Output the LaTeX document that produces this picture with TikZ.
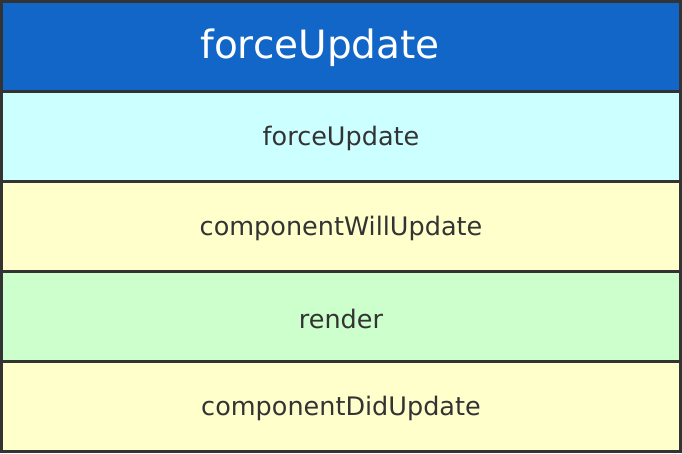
\documentclass[tikz,border=0pt]{standalone}
\usepackage{fontspec}
\setmainfont{DejaVu Sans}
\definecolor{edge}{HTML}{333333}
\definecolor{headblue}{HTML}{1166C8}
\definecolor{cyanrow}{HTML}{CCFFFF}
\definecolor{yellowrow}{HTML}{FFFFCC}
\definecolor{greenrow}{HTML}{CCFFCC}
\definecolor{txt}{HTML}{333333}
\begin{document}
\begin{tikzpicture}[x=1pt,y=1pt,
  row/.style={draw=edge,line width=3pt,minimum width=679pt,minimum height=90pt,
    inner sep=0pt,outer sep=0pt,anchor=north west},
  rowtext/.style={text=txt,font=\fontsize{25.5}{30}\selectfont,yshift=-2pt},
  headtext/.style={text=white,font=\fontsize{39}{46}\selectfont,yshift=-1pt}]
\useasboundingbox (0,0) rectangle (682,-454);
\node[row,fill=headblue]  (head) at (1.5,-1.5) {};
\node[row,fill=cyanrow]   (r1) at (1.5,-91.5) {};
\node[row,fill=yellowrow] (r2) at (1.5,-181.5) {};
\node[row,fill=greenrow]  (r3) at (1.5,-271.5) {};
\node[row,fill=yellowrow] (r4) at (1.5,-361.5) {};
\node[headtext] (title) at ([xshift=-21pt]head.center) {forceUpdate};
\node[rowtext] (t1) at (r1.center) {forceUpdate};
\node[rowtext] (t2) at (r2.center) {componentWillUpdate};
\node[rowtext] (t3) at (r3.center) {render};
\node[rowtext] (t4) at (r4.center) {componentDidUpdate};
\end{tikzpicture}
\end{document}
